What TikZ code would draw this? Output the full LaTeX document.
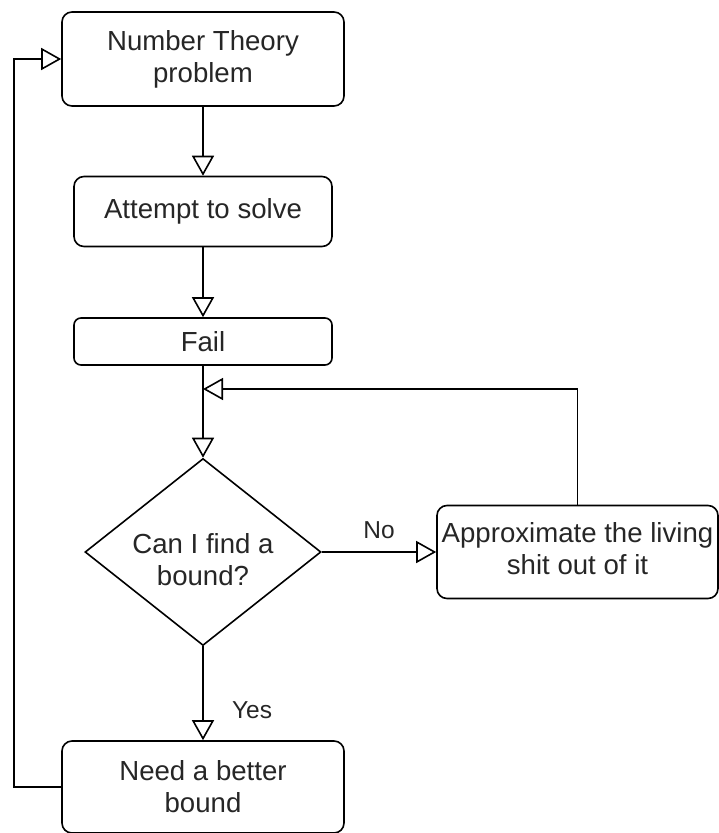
\documentclass[tikz,border=0pt]{standalone}
\usepackage{fontspec}
\setmainfont{Liberation Sans}
\usetikzlibrary{arrows.meta,shapes.geometric}
\begin{document}
\begin{tikzpicture}[x=1pt,y=-1pt,
  every node/.style={font=\fontsize{27.6}{32}\selectfont, text=black!85},
  box/.style={draw, rounded corners=10pt, line width=1.6pt, align=center, inner sep=0pt},
  dia/.style={draw, diamond, line width=1.6pt, inner sep=0pt, minimum width=236pt, minimum height=187pt},
  conn/.style={line width=1.6pt, -{Triangle[open, width=22pt, length=20pt, line width=1.6pt]}},
  lbl/.style={font=\fontsize{24.5}{28}\selectfont}]
\useasboundingbox (0,0) rectangle (719,833);
\node[box, minimum width=282pt, minimum height=94pt] (b1) at (203,59) {Number Theory\\problem};
\node[box, minimum width=258pt, minimum height=70pt] (b2) at (203,211.5) {Attempt to solve};
\node[box, minimum width=258pt, minimum height=47pt, rounded corners=7pt] (b3) at (203,341.5) {Fail};
\node[dia] (d) at (203,552) {};
\node[align=center, inner sep=0pt] (dt) at (203,560) {Can I find a\\bound?};
\node[box, minimum width=281pt, minimum height=93pt] (ap) at (577.5,552) {Approximate the living\\shit out of it\vspace{6pt}};
\node[box, minimum width=282pt, minimum height=92pt] (nb) at (203,787) {Need a better\\bound};
\coordinate (m) at (203,389);
\coordinate (tr) at (ap.north |- m);
\coordinate (l1) at (14,787);
\coordinate (l2) at (14,59);
\draw[conn] (b1.south) -- (b2.north);
\draw[conn] (b2.south) -- (b3.north);
\draw[conn] (b3.south) -- (d.north);
\draw[conn] (ap.north) -- (tr) -- (m);
\draw[conn] (d.east) -- node[lbl, above=9pt, pos=0.5] (no) {No} (ap.west);
\draw[conn] (d.south) -- node[lbl, right=25pt, pos=0.68] (yes) {Yes} (nb.north);
\draw[conn] (nb.west) -- (l1) -- (l2) -- (b1.west);
\end{tikzpicture}
\end{document}
